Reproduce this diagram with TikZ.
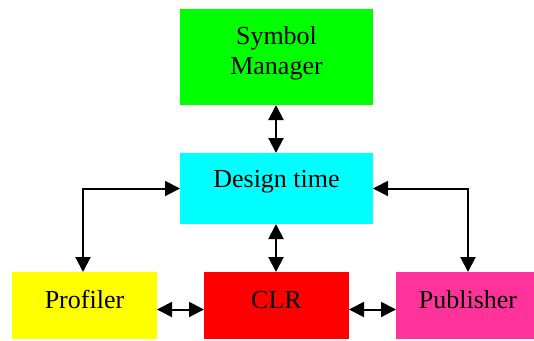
\documentclass[tikz,border=0pt]{standalone}
\usepackage{fontspec}
\setmainfont{Liberation Serif}
\usetikzlibrary{arrows.meta}
\definecolor{smgreen}{RGB}{0,255,0}
\definecolor{dtcyan}{RGB}{0,255,255}
\definecolor{pfyellow}{RGB}{255,255,0}
\definecolor{clrred}{RGB}{255,0,0}
\definecolor{pbpink}{RGB}{255,51,153}
\begin{document}
\begin{tikzpicture}[x=1pt,y=-1pt,
  box/.style={rectangle, draw=none, inner sep=0pt, outer sep=0pt},
  lbl/.style={anchor=base, font=\fontsize{26}{30}\selectfont, inner sep=0pt},
  tip/.style={Triangle[length=15pt,width=15pt]},
  link/.style={line width=2pt, {Triangle[length=15pt,width=15pt]}-{Triangle[length=15pt,width=15pt]}},
]
\useasboundingbox (0,0) rectangle (534,340);

% boxes
\node[box, fill=smgreen,  minimum width=193pt, minimum height=96pt] (sm)  at (276.5,57)   {};
\node[box, fill=dtcyan,   minimum width=193pt, minimum height=71pt] (dt)  at (276.5,188.5) {};
\node[box, fill=pfyellow, minimum width=145pt, minimum height=67pt] (pf)  at (84.5,305.5)  {};
\node[box, fill=clrred,   minimum width=145pt, minimum height=67pt] (clr) at (276.5,305.5) {};
\node[box, fill=pbpink,   minimum width=138pt, minimum height=67pt] (pb)  at (465,305.5)   {};

% labels
\node[lbl] (smA)  at (276.5,44)  {Symbol};
\node[lbl] (smB)  at (276.5,74)  {Manager};
\node[lbl] (dtL)  at (276.5,187.5) {Design time};
\node[lbl] (pfL)  at (84.5,308)  {Profiler};
\node[lbl] (clrL) at (276.5,308) {CLR};
\node[lbl] (pbL)  at (468,308)   {Publisher};

% connectors
\draw[link] ([xshift=-0.5pt]sm.south) -- ([xshift=-0.5pt]dt.north);
\draw[link] ([xshift=-0.5pt]dt.south) -- ([xshift=-0.5pt]clr.north);
\draw[link] (dt.west) -| ([xshift=-1.5pt]pf.north);
\draw[link] (dt.east) -| ([xshift=3pt]pb.north);
\draw[link] ([yshift=-4pt]pf.east) -- ([yshift=-4pt]clr.west);
\draw[link] ([yshift=-4pt]clr.east) -- ([yshift=-4pt]pb.west);
\end{tikzpicture}
\end{document}
